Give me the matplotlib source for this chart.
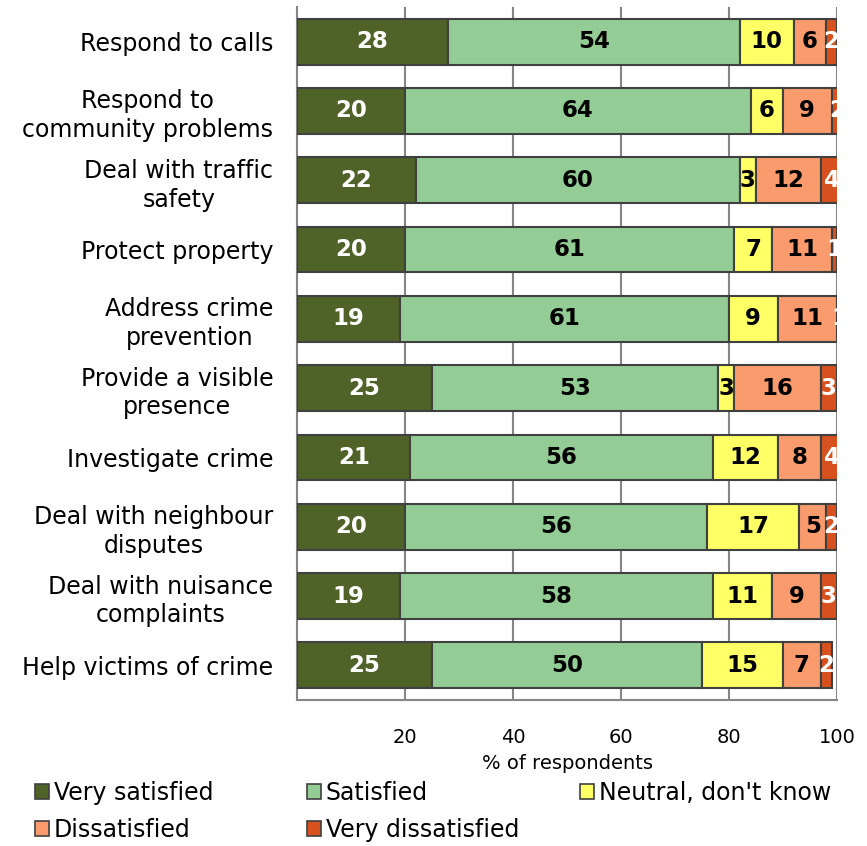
import numpy as np
import matplotlib.pyplot as plt
from matplotlib.patches import Patch

categories = ["Respond to calls", "Respond to\ncommunity problems",
              "Deal with traffic\nsafety", "Protect property",
              "Address crime\nprevention", "Provide a visible\npresence",
              "Investigate crime", "Deal with neighbour\ndisputes",
              "Deal with nuisance\ncomplaints", "Help victims of crime"]

very_satisfied = [28, 20, 22, 20, 19, 25, 21, 20, 19, 25]
satisfied = [54, 64, 60, 61, 61, 53, 56, 56, 58, 50]
neutral = [10, 6, 3, 7, 9, 3, 12, 17, 11, 15]
dissatisfied = [6, 9, 12, 11, 11, 16, 8, 5, 9, 7]
very_dissatisfied = [2, 2, 4, 1, 1, 3, 4, 2, 3, 2]

series = [very_satisfied, satisfied, neutral, dissatisfied, very_dissatisfied]
names = ["Very satisfied", "Satisfied", "Neutral, don't know",
         "Dissatisfied", "Very dissatisfied"]
colors = ["#4F6228", "#93CD95", "#FFFF66", "#F99B6C", "#D7511F"]
text_colors = ["white", "black", "black", "black", "white"]

fig = plt.figure(figsize=(8.67, 8.46), dpi=100)
ax = fig.add_axes([297/867, 1 - 700/846, 540/867, 693/846])

y = np.arange(len(categories))
left = np.zeros(len(categories))
for vals, name, c, tc in zip(series, names, colors, text_colors):
    vals = np.array(vals, dtype=float)
    ax.barh(y, vals, left=left, height=0.66, color=c, edgecolor="#404040",
            linewidth=1.5, label=name, zorder=3)
    for yi, l, v in zip(y, left, vals):
        ax.text(l + v / 2, yi, f"{int(v)}", ha="center", va="center",
                fontsize=16.5, fontweight="bold", color=tc, zorder=4,
                clip_on=False)
    left += vals

ax.set_xlim(0, 100)
ax.set_ylim(9.5, -0.5)
ax.set_yticks(y)
ax.set_yticklabels(categories, fontsize=17, multialignment="center",
                   linespacing=1.25)
ax.set_xticks([20, 40, 60, 80, 100])
ax.tick_params(axis="x", length=0, labelsize=14, pad=20)
ax.tick_params(axis="y", length=0, pad=17)
ax.xaxis.grid(True, color="#858585", linewidth=1.5, zorder=0)
ax.set_axisbelow(True)
for s in ["top", "right"]:
    ax.spines[s].set_visible(False)
for s in ["left", "bottom"]:
    ax.spines[s].set_color("#858585")
    ax.spines[s].set_linewidth(1.5)
ax.set_xlabel("% of respondents", fontsize=14, labelpad=5)

# legend laid out row by row in three fixed columns
handles = [Patch(facecolor=c, edgecolor="#404040", linewidth=1.2) for c in colors]
columns = [([0, 3], 35), ([1, 4], 307), ([2], 580)]
for idx, xpix in columns:
    fig.legend([handles[i] for i in idx], [names[i] for i in idx],
               loc="upper left", bbox_to_anchor=(xpix / 867, 1 - 781 / 846),
               frameon=False, fontsize=17, handlelength=0.6,
               handleheight=0.6, handletextpad=0.2, labelspacing=0.55,
               borderpad=0.0, borderaxespad=0.0)

fig.savefig("out.png", dpi=100)
